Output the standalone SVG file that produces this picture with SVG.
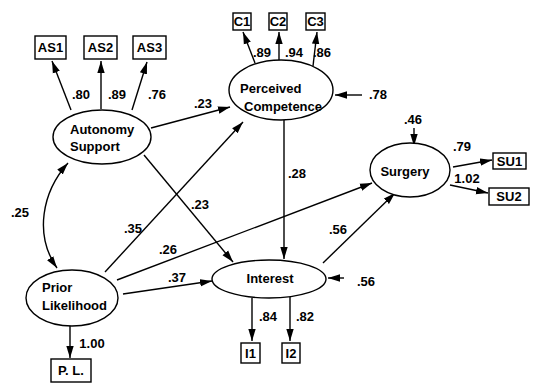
<svg xmlns="http://www.w3.org/2000/svg" width="542" height="384" viewBox="0 0 542 384">
<style>
text{font-family:"Liberation Sans",Arial,sans-serif;font-weight:bold;font-size:13px;fill:#000}
.n ellipse,.n rect{fill:#fff;stroke:#000;stroke-width:1.4}
.c path,.c line{stroke:#000;stroke-width:1.4;fill:none}
.m{text-anchor:middle}
</style>
<defs>
<marker id="a" markerUnits="userSpaceOnUse" markerWidth="14" markerHeight="9" refX="12" refY="4.5" orient="auto-start-reverse"><path d="M0,0.8 L12,4.5 L0,8.2 Z" fill="#000"/></marker>
</defs>
<rect width="542" height="384" fill="#fff"/>
<g class="c" id="connectors">
<line x1="71" y1="110" x2="52" y2="61" marker-end="url(#a)"/>
<line x1="101" y1="109" x2="101" y2="61" marker-end="url(#a)"/>
<line x1="132" y1="110" x2="147" y2="62" marker-end="url(#a)"/>
<line x1="255" y1="63" x2="243" y2="32" marker-end="url(#a)"/>
<line x1="279" y1="60" x2="279" y2="32" marker-end="url(#a)"/>
<line x1="313" y1="66" x2="317" y2="32" marker-end="url(#a)"/>
<line x1="362" y1="95" x2="335" y2="95" marker-end="url(#a)"/>
<line x1="151" y1="128" x2="230" y2="107" marker-end="url(#a)"/>
<line x1="105" y1="272" x2="243" y2="122" marker-end="url(#a)"/>
<line x1="144" y1="155" x2="233" y2="262" marker-end="url(#a)"/>
<line x1="284" y1="120" x2="284" y2="259" marker-end="url(#a)"/>
<line x1="117" y1="280" x2="372" y2="183" marker-end="url(#a)"/>
<line x1="123" y1="294" x2="212" y2="281" marker-end="url(#a)"/>
<line x1="323" y1="263" x2="395" y2="193" marker-end="url(#a)"/>
<line x1="344" y1="278" x2="328" y2="278" marker-end="url(#a)"/>
<line x1="414" y1="128" x2="414" y2="146" marker-end="url(#a)"/>
<line x1="453" y1="167" x2="492" y2="160" marker-end="url(#a)"/>
<line x1="450" y1="185" x2="488" y2="193" marker-end="url(#a)"/>
<line x1="252" y1="298" x2="252" y2="341" marker-end="url(#a)"/>
<line x1="290" y1="297" x2="290" y2="341" marker-end="url(#a)"/>
<line x1="70" y1="326" x2="70" y2="358" marker-end="url(#a)"/>
<path d="M68,163 C42,192 34,235 57,268" marker-start="url(#a)" marker-end="url(#a)"/>
</g>
<g id="labels">
<text x="81" y="99" class="m">.80</text>
<text x="117" y="99" class="m">.89</text>
<text x="157" y="99" class="m">.76</text>
<text x="262" y="57" class="m">.89</text>
<text x="294" y="57" class="m">.94</text>
<text x="322" y="57" class="m">.86</text>
<text x="378" y="99" class="m">.78</text>
<text x="203" y="108" class="m">.23</text>
<text x="20" y="217" class="m">.25</text>
<text x="133" y="233" class="m">.35</text>
<text x="200" y="209" class="m">.23</text>
<text x="297" y="178" class="m">.28</text>
<text x="168" y="254" class="m">.26</text>
<text x="177" y="282" class="m">.37</text>
<text x="338" y="234" class="m">.56</text>
<text x="366" y="286" class="m">.56</text>
<text x="413" y="124" class="m">.46</text>
<text x="462" y="151" class="m">.79</text>
<text x="467" y="183" class="m">1.02</text>
<text x="268" y="321" class="m">.84</text>
<text x="305" y="321" class="m">.82</text>
<text x="92" y="348" class="m">1.00</text>
</g>
<g class="n" id="AS1"><rect x="35" y="36" width="31" height="23"/><text x="50.5" y="52" class="m">AS1</text></g>
<g class="n" id="AS2"><rect x="84" y="36" width="33" height="23"/><text x="100.5" y="52" class="m">AS2</text></g>
<g class="n" id="AS3"><rect x="133" y="36" width="33" height="23"/><text x="149.5" y="52" class="m">AS3</text></g>
<g class="n" id="C1"><rect x="233" y="13" width="18" height="17"/><text x="242" y="26" class="m">C1</text></g>
<g class="n" id="C2"><rect x="269" y="13" width="18" height="17"/><text x="278" y="26" class="m">C2</text></g>
<g class="n" id="C3"><rect x="306" y="13" width="19" height="17"/><text x="315.5" y="26" class="m">C3</text></g>
<g class="n" id="autonomy"><ellipse cx="102" cy="137" rx="49" ry="27"/><text x="70" y="134">Autonomy</text><text x="70" y="151">Support</text></g>
<g class="n" id="competence"><ellipse cx="281" cy="90" rx="52" ry="30"/><text x="240" y="93">Perceived</text><text x="244" y="111">Competence</text></g>
<g class="n" id="surgery"><ellipse cx="410" cy="170" rx="40" ry="27"/><text x="405" y="176" class="m">Surgery</text></g>
<g class="n" id="interest"><ellipse cx="269" cy="279" rx="57" ry="19"/><text x="270" y="283" class="m">Interest</text></g>
<g class="n" id="prior"><ellipse cx="72" cy="298" rx="46" ry="28"/><text x="42" y="292">Prior</text><text x="42" y="310">Likelihood</text></g>
<g class="n" id="PL"><rect x="51" y="359" width="40" height="23"/><text x="71" y="375" class="m">P. L.</text></g>
<g class="n" id="SU1"><rect x="493" y="153" width="33" height="16"/><text x="509.5" y="166" class="m">SU1</text></g>
<g class="n" id="SU2"><rect x="489" y="188" width="40" height="17"/><text x="509" y="201" class="m">SU2</text></g>
<g class="n" id="I1"><rect x="241" y="343" width="19" height="20"/><text x="250.5" y="358" class="m">I1</text></g>
<g class="n" id="I2"><rect x="282" y="343" width="18" height="20"/><text x="291" y="358" class="m">I2</text></g>
</svg>
